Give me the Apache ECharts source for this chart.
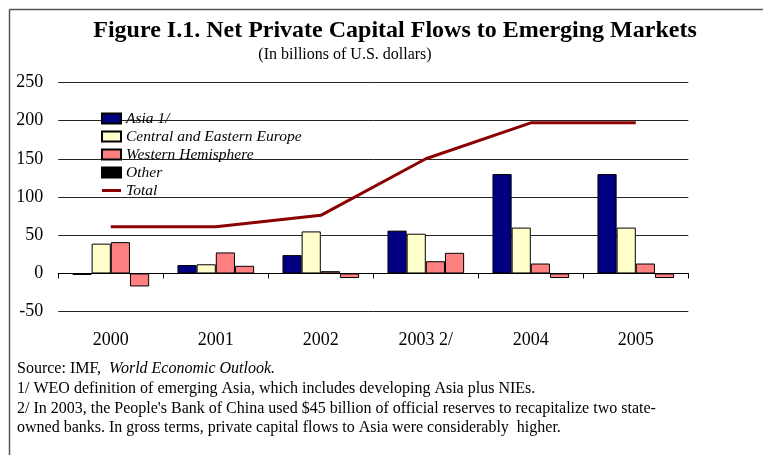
<!DOCTYPE html>
<html>
<head>
<meta charset="utf-8">
<script src="https://cdn.jsdelivr.net/npm/echarts@6/dist/echarts.min.js"></script>
<style>
  html, body { margin: 0; padding: 0; background: #fff; }
  #chart { width: 763px; height: 455px; }
</style>
</head>
<body>
<div id="chart"></div>
<script>
// Net private capital flows to emerging markets, billions of U.S. dollars
const years = ['2000', '2001', '2002', '2003 2/', '2004', '2005'];
const asia = [-2, 11, 24, 56, 130, 130];
const centralEasternEurope = [39, 12, 55, 52, 60, 60];
const westernHemisphere = [41, 27.5, 3, 16, 13, 13];
const other = [-17, 10, -6, 27, -6, -6];
const total = [61, 61, 76, 150, 197, 197];
const yTicks = { min: -50, max: 250, step: 50 };

const serif = '"Liberation Serif", "Times New Roman", serif';
const chart = echarts.init(document.getElementById('chart'), null, { renderer: 'canvas' });

const barBase = {
  type: 'bar',
  xAxisIndex: 0,
  barGap: '0%',
  barCategoryGap: '27%'
};

// thin horizontal stroke for the line-series legend key (invisible corner points keep the box 19x10)
const lineKey = 'path://M0,0 L0.01,0 Z M0,10 L0.01,10 Z M0,3.6 H19 V6.4 H0 Z';

chart.setOption({
  backgroundColor: '#fff',
  animation: false,
  grid: { left: 58.3, right: 74.7, top: 82.3, bottom: 143.3, containLabel: false },
  legend: {
    orient: 'vertical',
    left: 101,
    top: 110.5,
    padding: 0,
    itemWidth: 19,
    itemHeight: 10,
    itemGap: 2,
    icon: 'rect',
    textStyle: { fontFamily: serif, fontStyle: 'italic', fontSize: 15.5, lineHeight: 15, color: '#000' },
    data: [
      { name: 'Asia 1/' },
      { name: 'Central and Eastern Europe' },
      { name: 'Western Hemisphere' },
      { name: 'Other', itemStyle: { color: '#000' } },
      { name: 'Total', icon: lineKey, itemStyle: { color: '#8B0000', borderWidth: 0 } }
    ]
  },
  xAxis: [
    {
      type: 'category',
      data: years,
      position: 'bottom',
      axisLine: { onZero: true, lineStyle: { color: '#000', width: 1 } },
      axisTick: { show: true, interval: 0, length: 5, lineStyle: { color: '#000' } },
      axisLabel: { show: false },
      splitLine: { show: false }
    },
    {
      type: 'category',
      data: years,
      position: 'bottom',
      axisLine: { show: false, onZero: false },
      axisTick: { show: false },
      axisLabel: { show: true, margin: 20, fontFamily: serif, fontSize: 18, color: '#000' },
      splitLine: { show: false }
    }
  ],
  yAxis: {
    type: 'value',
    min: yTicks.min,
    max: yTicks.max,
    interval: yTicks.step,
    axisLine: { show: false },
    axisTick: { show: false },
    axisLabel: { margin: 15, fontFamily: serif, fontSize: 18, color: '#000' },
    splitLine: { lineStyle: { color: '#222', width: 1 } }
  },
  series: [
    Object.assign({}, barBase, { name: 'Asia 1/', data: asia, itemStyle: { color: '#000080', borderColor: '#000', borderWidth: 1 } }),
    Object.assign({}, barBase, { name: 'Central and Eastern Europe', data: centralEasternEurope, itemStyle: { color: '#FFFFCC', borderColor: '#000', borderWidth: 1 } }),
    Object.assign({}, barBase, { name: 'Western Hemisphere', data: westernHemisphere, itemStyle: { color: '#FF8080', borderColor: '#000', borderWidth: 1 } }),
    Object.assign({}, barBase, { name: 'Other', data: other, itemStyle: { color: '#FF8080', borderColor: '#000', borderWidth: 1 } }),
    {
      name: 'Total',
      type: 'line',
      xAxisIndex: 0,
      data: total,
      symbol: 'none',
      z: 5,
      itemStyle: { color: '#8B0000' },
      lineStyle: { color: '#8B0000', width: 3 }
    }
  ],
  graphic: [
    // frame
    { type: 'line', shape: { x1: 9.5, y1: 9.5, x2: 763, y2: 9.5 }, style: { stroke: '#555', lineWidth: 1.5 } },
    { type: 'line', shape: { x1: 9.5, y1: 9.5, x2: 9.5, y2: 455 }, style: { stroke: '#555', lineWidth: 1.5 } },
    // headings
    {
      type: 'text', x: 395, y: 31,
      style: { text: 'Figure I.1. Net Private Capital Flows to Emerging Markets', fontFamily: serif, fontWeight: 'bold', fontSize: 24, fill: '#000', align: 'center', verticalAlign: 'middle' }
    },
    {
      type: 'text', x: 345, y: 55,
      style: { text: '(In billions of U.S. dollars)', fontFamily: serif, fontSize: 16, fill: '#000', align: 'center', verticalAlign: 'middle' }
    },
    // notes
    {
      type: 'text', x: 17, y: 369,
      style: {
        text: '{n|Source: IMF,  }{i|World Economic Outlook.}',
        verticalAlign: 'middle',
        rich: {
          n: { fontFamily: serif, fontSize: 16, fill: '#000' },
          i: { fontFamily: serif, fontSize: 16, fontStyle: 'italic', fill: '#000' }
        }
      }
    },
    {
      type: 'text', x: 17, y: 389,
      style: { text: '1/ WEO definition of emerging Asia, which includes developing Asia plus NIEs.', fontFamily: serif, fontSize: 16, fill: '#000', verticalAlign: 'middle' }
    },
    {
      type: 'text', x: 17, y: 408.5,
      style: { text: "2/ In 2003, the People's Bank of China used $45 billion of official reserves to recapitalize two state-", fontFamily: serif, fontSize: 16, fill: '#000', verticalAlign: 'middle' }
    },
    {
      type: 'text', x: 17, y: 427.5,
      style: { text: 'owned banks. In gross terms, private capital flows to Asia were considerably  higher.', fontFamily: serif, fontSize: 16, fill: '#000', verticalAlign: 'middle' }
    }
  ]
});
</script>
</body>
</html>
